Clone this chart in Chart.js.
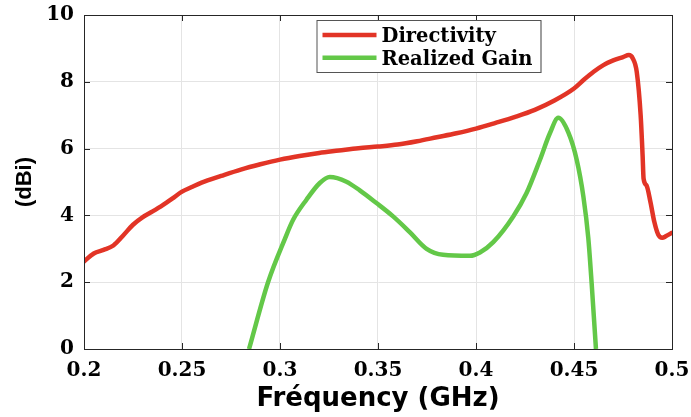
<!DOCTYPE html>
<html>
<head>
<meta charset="utf-8">
<script src="https://cdn.jsdelivr.net/npm/chart.js@4.4.1/dist/chart.umd.min.js"></script>
<style>
  html, body { margin: 0; padding: 0; background: #fff; }
  #wrap { width: 691px; height: 417px; position: relative; }
</style>
</head>
<body>
<div id="wrap"><canvas id="c"></canvas></div>
<script>
// Directivity (dBi) versus frequency (GHz)
const freqDirectivity = [0.2, 0.205, 0.21, 0.215, 0.22, 0.225, 0.23, 0.235, 0.24, 0.245, 0.25, 0.255, 0.26,
  0.27, 0.28, 0.29, 0.3, 0.31, 0.32, 0.33, 0.34, 0.35, 0.36, 0.37, 0.38, 0.39, 0.4, 0.41, 0.42, 0.43, 0.44,
  0.45, 0.455, 0.46, 0.465, 0.47, 0.475, 0.478, 0.48, 0.482, 0.484, 0.485, 0.4855, 0.487, 0.489, 0.491,
  0.493, 0.495, 0.497, 0.5];
const directivity = [2.62, 2.86, 2.97, 3.1, 3.4, 3.72, 3.95, 4.12, 4.3, 4.5, 4.71, 4.85, 4.98,
  5.18, 5.37, 5.53, 5.67, 5.78, 5.87, 5.94, 6.01, 6.06, 6.12, 6.22, 6.34, 6.46, 6.6, 6.77, 6.95, 7.16, 7.44,
  7.8, 8.06, 8.3, 8.5, 8.64, 8.74, 8.8, 8.7, 8.3, 7.0, 5.8, 5.1, 4.9, 4.4, 3.8,
  3.42, 3.33, 3.38, 3.48];

// Realized gain (dBi) versus frequency (GHz)
const freqGain = [0.2842, 0.2939, 0.3025, 0.3067, 0.3135, 0.3203, 0.3254, 0.3339, 0.3407,
  0.3492, 0.3577, 0.3662, 0.3748, 0.3832, 0.3969, 0.402, 0.4088, 0.419, 0.4258, 0.4326, 0.4377, 0.442,
  0.4472, 0.4514, 0.4548, 0.4573, 0.459, 0.4612];
const realizedGain = [0, 2.0, 3.3, 3.87, 4.47, 4.97, 5.15, 5.01, 4.75,
  4.37, 3.97, 3.5, 3.0, 2.82, 2.79, 2.89, 3.2, 3.97, 4.67, 5.66, 6.46, 6.92,
  6.47, 5.66, 4.56, 3.32, 1.97, 0];

const seriesNames = ['Directivity', 'Realized Gain'];
const xTicks = [0.2, 0.25, 0.3, 0.35, 0.4, 0.45, 0.5];
const yTicks = [0, 2, 4, 6, 8, 10];

const RED = 'rgb(226,52,38)';
const GREEN = 'rgb(99,200,72)';
const AXIS = '#262626';
const TICK_FONT = { family: '"DejaVu Serif", serif', weight: 'bold', size: 20, lineHeight: 1.2 };

function toPoints(xs, ys) { return xs.map((x, i) => ({ x: x, y: ys[i] })); }

// MATLAB-style box: inward tick marks on all four sides
const boxTicks = {
  id: 'boxTicks',
  afterDatasetsDraw(chart) {
    const { ctx, chartArea: a, scales: { x, y } } = chart;
    const len = 6;
    ctx.save();
    ctx.strokeStyle = AXIS;
    ctx.lineWidth = 1;
    ctx.beginPath();
    xTicks.forEach(v => {
      const px = Math.round(x.getPixelForValue(v)) + 0.5;
      ctx.moveTo(px, a.bottom); ctx.lineTo(px, a.bottom - len);
      ctx.moveTo(px, a.top); ctx.lineTo(px, a.top + len);
    });
    yTicks.forEach(v => {
      const py = Math.round(y.getPixelForValue(v)) + 0.5;
      ctx.moveTo(a.left, py); ctx.lineTo(a.left + len, py);
      ctx.moveTo(a.right, py); ctx.lineTo(a.right - len, py);
    });
    ctx.stroke();
    ctx.strokeRect(Math.round(a.left) + 0.5, Math.round(a.top) + 0.5,
      Math.round(a.right - a.left), Math.round(a.bottom - a.top));
    ctx.restore();
  }
};

// Boxed legend inside the axes, upper middle
const boxLegend = {
  id: 'boxLegend',
  afterDraw(chart) {
    const { ctx, chartArea: a } = chart;
    const bx = a.left + 232.5, by = a.top + 5, bw = 224, bh = 52;
    ctx.save();
    ctx.fillStyle = 'rgba(0,0,0,0.18)';
    ctx.fillRect(bx + 1, by + 1, bw, bh);
    ctx.fillStyle = '#fff';
    ctx.fillRect(bx, by, bw, bh);
    ctx.strokeStyle = '#555';
    ctx.lineWidth = 1;
    ctx.strokeRect(bx + 0.5, by + 0.5, bw, bh);
    ctx.font = 'bold 19.5px "DejaVu Serif", serif';
    ctx.textBaseline = 'alphabetic';
    ctx.textAlign = 'left';
    chart.data.datasets.forEach((ds, i) => {
      const ly = by + 15 + i * 22.7;
      ctx.strokeStyle = ds.borderColor;
      ctx.lineWidth = 4.5;
      ctx.beginPath();
      ctx.moveTo(bx + 6, ly);
      ctx.lineTo(bx + 60, ly);
      ctx.stroke();
      ctx.fillStyle = '#000';
      ctx.fillText(ds.label, bx + 65, ly + 7);
    });
    ctx.restore();
  }
};

new Chart(document.getElementById('c'), {
  type: 'line',
  data: {
    datasets: [
      { label: seriesNames[0], data: toPoints(freqDirectivity, directivity), borderColor: RED,
        backgroundColor: RED, borderWidth: 4.5, pointRadius: 0, cubicInterpolationMode: 'monotone',
        borderJoinStyle: 'round', borderCapStyle: 'round' },
      { label: seriesNames[1], data: toPoints(freqGain, realizedGain), borderColor: GREEN,
        backgroundColor: GREEN, borderWidth: 4.5, pointRadius: 0, cubicInterpolationMode: 'monotone',
        borderJoinStyle: 'round', borderCapStyle: 'butt', clip: 0 }
    ]
  },
  options: {
    responsive: true,
    maintainAspectRatio: false,
    animation: false,
    layout: { padding: { left: 0, right: 19, top: 15, bottom: 0 } },
    plugins: { legend: { display: false }, tooltip: { enabled: false } },
    scales: {
      x: {
        type: 'linear', min: 0.2, max: 0.5,
        afterFit(s) { s.height = 68; s.paddingLeft = 0; s.paddingRight = 0; },
        afterBuildTicks(s) { s.ticks = xTicks.map(v => ({ value: v })); },
        ticks: { color: '#000', font: TICK_FONT, padding: 10, maxRotation: 0,
          callback: v => String(Number(v.toFixed(2))) },
        grid: { color: '#e4e4e4', lineWidth: 1, drawTicks: false },
        border: { display: true, color: AXIS, width: 1 },
        title: { display: true, text: 'Fréquency (GHz)', color: '#000',
          font: { family: '"DejaVu Sans", sans-serif', weight: 'bold', size: 26, lineHeight: 1.2 },
          padding: { top: 0, bottom: 2 } }
      },
      y: {
        type: 'linear', min: 0, max: 10,
        afterFit(s) { s.width = 84; s.paddingTop = 0; s.paddingBottom = 0; },
        afterBuildTicks(s) { s.ticks = yTicks.map(v => ({ value: v })); },
        ticks: { color: '#000', font: TICK_FONT, padding: 10 },
        grid: { color: '#e4e4e4', lineWidth: 1, drawTicks: false },
        border: { display: true, color: AXIS, width: 1 },
        title: { display: true, text: '(dBi)', color: '#000',
          font: { family: '"Liberation Sans", Arial, sans-serif', weight: 'bold', size: 22, lineHeight: 1.2 },
          padding: { top: 12, bottom: 0 } }
      }
    }
  },
  plugins: [boxTicks, boxLegend]
});
</script>
</body>
</html>
